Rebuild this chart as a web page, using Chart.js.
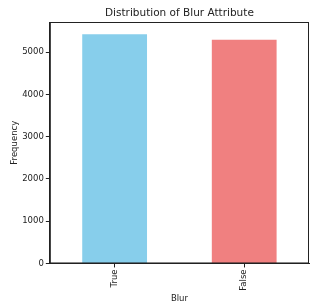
<!DOCTYPE html>
<html>
<head>
<meta charset="UTF-8">
<script src="https://cdn.jsdelivr.net/npm/chart.js"></script>
<style>
    body { margin: 0; background: #fff; }
    #wrap { width: 315px; height: 308px; }
</style>
</head>
<body>
<div id="wrap"><canvas id="c"></canvas></div>
<script>
    const categories = ['True', 'False'];
    const counts = [5420, 5290];
    const yTicks = [0, 1000, 2000, 3000, 4000, 5000];
    const barColors = ['#87CEEB', '#F08080'];
    const chartTitle = 'Distribution of Blur Attribute';

    // full box around the plot area + title centred over the axes, like matplotlib
    const frame = {
        id: 'frame',
        afterDraw(chart) {
            const a = chart.chartArea, ctx = chart.ctx;
            ctx.save();
            ctx.strokeStyle = '#222';
            ctx.lineWidth = 1;
            ctx.strokeRect(a.left + 0.5, a.top + 0.5, a.right - a.left - 1, a.bottom - a.top - 1);
            ctx.fillStyle = '#222';
            ctx.font = '10.5px "DejaVu Sans"';
            ctx.textAlign = 'center';
            ctx.textBaseline = 'middle';
            ctx.fillText(chartTitle, (a.left + a.right) / 2, a.top - 9);
            ctx.restore();
        }
    };

    Chart.defaults.font.family = 'DejaVu Sans';
    Chart.defaults.color = '#222';

    new Chart(document.getElementById('c'), {
        type: 'bar',
        data: {
            labels: categories,
            datasets: [{
                data: counts,
                backgroundColor: barColors,
                categoryPercentage: 1,
                barPercentage: 0.5
            }]
        },
        options: {
            responsive: true,
            maintainAspectRatio: false,
            animation: false,
            layout: { padding: { left: 10, right: 6, top: 22, bottom: 4 } },
            plugins: {
                legend: { display: false },
                tooltip: { enabled: false },
                title: { display: false }
            },
            scales: {
                x: {
                    grid: { drawOnChartArea: false, offset: false, tickLength: 4, color: '#222' },
                    border: { color: '#222' },
                    ticks: { minRotation: 90, maxRotation: 90, font: { size: 8.5 }, padding: 2 },
                    title: { display: true, text: 'Blur', font: { size: 8.5 }, padding: { top: 1, bottom: 0 } }
                },
                y: {
                    min: 0,
                    max: 5710,
                    afterBuildTicks(scale) {
                        scale.ticks = yTicks.map(v => ({ value: v }));
                    },
                    grid: { drawOnChartArea: false, tickLength: 4, color: '#222' },
                    border: { color: '#222' },
                    ticks: { font: { size: 8.5 }, padding: 2, callback: v => String(v) },
                    title: { display: true, text: 'Frequency', font: { size: 8.5 }, padding: { top: 0, bottom: 0 } }
                }
            }
        },
        plugins: [frame]
    });
</script>
</body>
</html>
